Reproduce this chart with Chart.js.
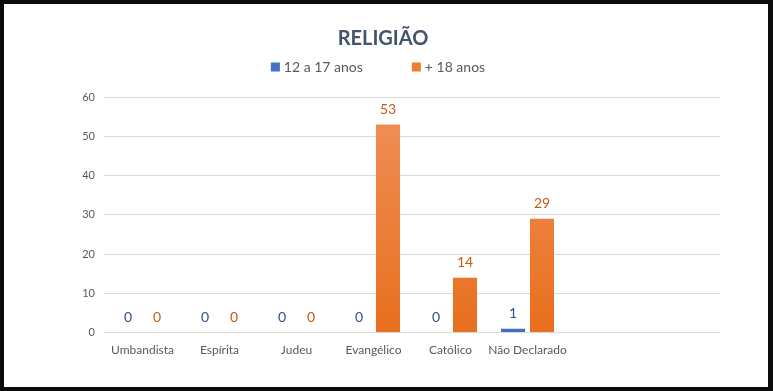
<!DOCTYPE html>
<html>
<head>
<meta charset="utf-8">
<script src="https://cdn.jsdelivr.net/npm/chart.js@4/dist/chart.umd.min.js"></script>
<style>
  html,body{margin:0;padding:0;background:#0b0b0b;}
  #wrap{position:absolute;left:0;top:0;width:773px;height:391px;box-sizing:border-box;border:4px solid #0b0b0b;border-right-width:5px;background:#fff;}
  #wrap canvas{display:block;}
</style>
</head>
<body>
<div id="wrap"><canvas id="c" width="764" height="383"></canvas></div>
<script>
const categories = ['Umbandista', 'Espírita', 'Judeu', 'Evangélico', 'Católico', 'Não Declarado', '', ''];
const seriesNames = ['12 a 17 anos', '+ 18 anos'];
const seriesColors = ['#4472C4', '#ED7D31'];
const teen = [0, 0, 0, 0, 0, 1, null, null];
const adult = [0, 0, 0, 53, 14, 29, null, null];
const yTicks = [0, 10, 20, 30, 40, 50, 60];

const FONT = 'Lato, "Open Sans", sans-serif';
const TITLE_GAP = 46;

function grad(top, bottom) {
  return (ctx) => {
    const ch = ctx.chart, area = ch.chartArea;
    if (!area) return bottom;
    const g = ch.ctx.createLinearGradient(0, area.top, 0, area.bottom);
    g.addColorStop(0, top);
    g.addColorStop(1, bottom);
    return g;
  };
}

const labelPlugin = {
  id: 'valueLabels',
  afterDatasetsDraw(chart) {
    const ctx = chart.ctx;
    ctx.save();
    ctx.font = '14px ' + FONT;
    ctx.textAlign = 'center';
    ctx.textBaseline = 'middle';
    chart.data.datasets.forEach((ds, di) => {
      const meta = chart.getDatasetMeta(di);
      meta.data.forEach((bar, i) => {
        const v = ds.data[i];
        if (v === null || v === undefined) return;
        ctx.fillStyle = ds.labelColor;
        ctx.fillText(String(v), bar.x, bar.y - 15);
      });
    });
    ctx.restore();
  }
};

// Legend drawn in the gap under the title with wide spacing between items
const legendPlugin = {
  id: 'wideLegend',
  afterDraw(chart) {
    const ctx = chart.ctx;
    const tb = chart.titleBlock;
    const cx = (tb.left + tb.right) / 2 - 5;
    const cy = tb.bottom - TITLE_GAP + 16;
    const box = 9, boxGap = 4, itemGap = 49;
    ctx.save();
    ctx.font = '14px ' + FONT;
    ctx.textBaseline = 'middle';
    ctx.textAlign = 'left';
    const widths = seriesNames.map(n => box + boxGap + ctx.measureText(n).width);
    const total = widths.reduce((a, b) => a + b, 0) + itemGap * (widths.length - 1);
    let x = cx - total / 2;
    seriesNames.forEach((n, i) => {
      ctx.fillStyle = seriesColors[i];
      ctx.fillRect(x, cy - box / 2, box, box);
      ctx.fillStyle = '#595959';
      ctx.fillText(n, x + box + boxGap, cy);
      x += widths[i] + itemGap;
    });
    ctx.restore();
  }
};

new Chart(document.getElementById('c'), {
  type: 'bar',
  data: {
    labels: categories,
    datasets: [
      { label: seriesNames[0], data: teen, backgroundColor: grad('#4F7CCB', '#3F6DC0'), labelColor: '#2F4F8F',
        categoryPercentage: 0.753, barPercentage: 0.83 },
      { label: seriesNames[1], data: adult, backgroundColor: grad('#F0915A', '#E86F1E'), labelColor: '#C55A11',
        categoryPercentage: 0.753, barPercentage: 0.83 }
    ]
  },
  options: {
    responsive: false,
    animation: false,
    layout: { padding: { left: 42, right: 48, top: 15, bottom: 20 } },
    plugins: {
      title: {
        display: true, text: 'RELIGIÃO', color: '#44546A',
        font: { family: FONT, size: 20, weight: 'bold' },
        padding: { top: 8, bottom: TITLE_GAP }
      },
      legend: { display: false },
      tooltip: { enabled: false }
    },
    scales: {
      x: {
        grid: { display: false, drawTicks: false },
        border: { display: false },
        ticks: { color: '#595959', font: { family: FONT, size: 12 }, padding: 10, maxRotation: 0, autoSkip: false }
      },
      y: {
        min: 0, max: 60,
        afterBuildTicks(s) { s.ticks = yTicks.map(v => ({ value: v })); },
        afterFit(s) { s.width = 58; },
        grid: { color: '#D9D9D9', drawTicks: false, lineWidth: 1 },
        border: { display: false },
        ticks: { color: '#595959', font: { family: FONT, size: 11 }, padding: 9 }
      }
    }
  },
  plugins: [labelPlugin, legendPlugin]
});
</script>
</body>
</html>
